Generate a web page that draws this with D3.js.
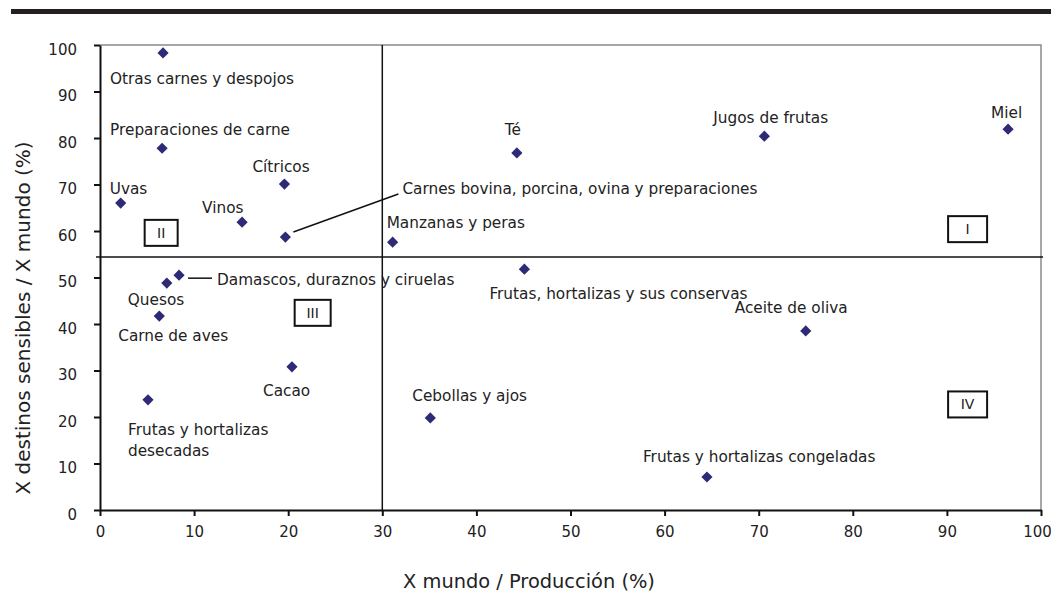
<!doctype html>
<html>
<head>
<meta charset="utf-8" />
<title>X destinos sensibles / X mundo</title>
<script src="https://cdn.jsdelivr.net/npm/d3@7/dist/d3.min.js"></script>
<style>
  body{margin:0;padding:0;background:#fff;}
  svg{display:block;font-family:"DejaVu Sans",sans-serif;}
</style>
</head>
<body>
<script>

// datos: x = X mundo / Producción (%), y = X destinos sensibles / X mundo (%)
var productos = ["Otras carnes y despojos","Preparaciones de carne","Cítricos","Uvas","Vinos",
  "Carnes bovina, porcina, ovina y preparaciones","Manzanas y peras","Damascos, duraznos y ciruelas",
  "Quesos","Carne de aves","Cacao","Frutas y hortalizas desecadas","Té","Jugos de frutas",
  "Frutas, hortalizas y sus conservas","Cebollas y ajos","Frutas y hortalizas congeladas","Miel","Aceite de oliva"];
var xMundo   = [6.7, 6.6, 19.6, 2.2, 15.1, 19.7, 31.1, 8.4, 7.1, 6.3, 20.4, 5.1, 44.3, 70.6, 45.1, 35.1, 64.5, 96.5, 75.0];
var yDestino = [98.3, 77.8, 70.1, 66.0, 61.9, 58.7, 57.6, 50.5, 48.8, 41.7, 30.8, 23.7, 76.8, 80.4, 51.8, 19.8, 7.1, 81.9, 38.5];

var xTicks = [0,10,20,30,40,50,60,70,80,90,100];
var yTicks = [0,10,20,30,40,50,60,70,80,90,100];
var cuadrantes = ["I","II","III","IV"];
var corteX = 30;     // linea vertical
var corteY = 54.4;   // linea horizontal

var width = 1051, height = 605;
var margin = {top:45, right:10, bottom:95, left:100};

var svg = d3.select("body").append("svg").attr("width",width).attr("height",height);

var x = d3.scaleLinear().domain([0,100]).range([margin.left, width-margin.right]);
var y = d3.scaleLinear().domain([0,100]).range([height-margin.bottom, margin.top]);

// barra superior
svg.append("rect").attr("x",11).attr("y",9).attr("width",width-11).attr("height",5).attr("fill","#231f20");

// borde gris del area de grafico (arriba y derecha)
svg.append("path")
  .attr("d","M"+x(0)+","+y(100)+"H"+x(100)+"V"+y(0))
  .attr("fill","none").attr("stroke","#8a8a8a").attr("stroke-width",1.5);

// ejes
var xAxis = d3.axisBottom(x).tickValues(xTicks).tickSize(6).tickSizeOuter(0).tickPadding(10);
var yAxis = d3.axisLeft(y).tickValues(yTicks).tickSize(6).tickSizeOuter(0).tickPadding(17);

var gx = svg.append("g").attr("transform","translate(0,"+y(0)+")").call(xAxis);
var gy = svg.append("g").attr("transform","translate("+x(0)+",0)").call(yAxis);
[gx,gy].forEach(function(g){
  g.select(".domain").attr("stroke","#111").attr("stroke-width",2);
  g.selectAll(".tick line").attr("stroke","#111").attr("stroke-width",2);
  g.selectAll(".tick text").attr("font-size","15px").attr("fill","#222").attr("font-family","DejaVu Sans");
});
gy.selectAll(".tick text").attr("dy","0.6em");
// el ultimo rotulo se corre un poco para que entre en el borde
gx.selectAll(".tick text").filter(function(d){ return d==100; }).attr("dx",-4);

// lineas de cuadrantes
svg.append("line").attr("x1",x(corteX)).attr("x2",x(corteX)).attr("y1",y(100)).attr("y2",y(0))
  .attr("stroke","#111").attr("stroke-width",1.5);
svg.append("line").attr("x1",x(0)-4).attr("x2",x(100)+2).attr("y1",y(corteY)).attr("y2",y(corteY))
  .attr("stroke","#111").attr("stroke-width",1.5);

// cajas de cuadrantes (centro en coordenadas de datos, ancho en px)
var cajaPos = {"I":[92.2,60.4,39], "II":[6.5,59.6,33], "III":[22.6,42.4,36], "IV":[92.2,22.7,39]};
cuadrantes.forEach(function(c){
  var p = cajaPos[c];
  var cx = x(p[0]), cy = y(p[1]);
  svg.append("rect").attr("x",cx-p[2]/2).attr("y",cy-13).attr("width",p[2]).attr("height",26)
    .attr("fill","#fff").attr("stroke","#111").attr("stroke-width",2);
  svg.append("text").attr("x",cx).attr("y",cy).attr("dy","0.36em").attr("text-anchor","middle")
    .attr("font-size","14px").attr("fill","#222").text(c);
});

// desplazamiento de cada etiqueta respecto a su punto (px), linea de enlace opcional
var etiq = {
  "Otras carnes y despojos":[-53,31],
  "Preparaciones de carne":[-52,-13],
  "Cítricos":[-32,-12],
  "Uvas":[-11,-9],
  "Vinos":[-40,-9],
  "Carnes bovina, porcina, ovina y preparaciones":[117,-43, [8,-5,113,-43]],
  "Manzanas y peras":[-6,-14],
  "Damascos, duraznos y ciruelas":[38,10, [9,3,33,3]],
  "Quesos":[-39,22],
  "Carne de aves":[-41,25],
  "Cacao":[-29,29],
  "Frutas y hortalizas desecadas":[-20,35],
  "Té":[-12,-18],
  "Jugos de frutas":[-51,-13],
  "Frutas, hortalizas y sus conservas":[-35,30],
  "Cebollas y ajos":[-18,-17],
  "Frutas y hortalizas congeladas":[-64,-15],
  "Miel":[-17,-11],
  "Aceite de oliva":[-71,-18]
};
var saltos = {"Frutas y hortalizas desecadas":["Frutas y hortalizas","desecadas"]};

var datos = productos.map(function(p,i){ return {nombre:p, x:xMundo[i], y:yDestino[i]}; });

var gl = svg.append("g");
datos.forEach(function(d){
  var o = etiq[d.nombre];
  var px = x(d.x), py = y(d.y);
  if (o[2]) {
    gl.append("line").attr("x1",px+o[2][0]).attr("y1",py+o[2][1]).attr("x2",px+o[2][2]).attr("y2",py+o[2][3])
      .attr("stroke","#111").attr("stroke-width",1.5);
  }
  var t = gl.append("text").attr("x",px+o[0]).attr("y",py+o[1]).attr("font-size","15.3px").attr("fill","#222");
  var lineas = saltos[d.nombre] || [d.nombre];
  lineas.forEach(function(l,k){
    t.append("tspan").attr("x",px+o[0]).attr("dy",k==0?0:21).text(l);
  });
});

// marcadores
svg.append("g").selectAll("path").data(datos).enter().append("path")
  .attr("transform",function(d){ return "translate("+x(d.x)+","+y(d.y)+")"; })
  .attr("d", d3.symbol().type(d3.symbolDiamond2).size(80))
  .attr("fill","#2f2a76");

// titulos de ejes
svg.append("text").attr("x",529).attr("y",588).attr("text-anchor","middle")
  .attr("font-size","19.4px").attr("fill","#222").text("X mundo / Producción (%)");
svg.append("text").attr("transform","translate(30,318) rotate(-90)").attr("text-anchor","middle")
  .attr("font-size","20px").attr("fill","#222").text("X destinos sensibles / X mundo (%)");

</script>
</body>
</html>
